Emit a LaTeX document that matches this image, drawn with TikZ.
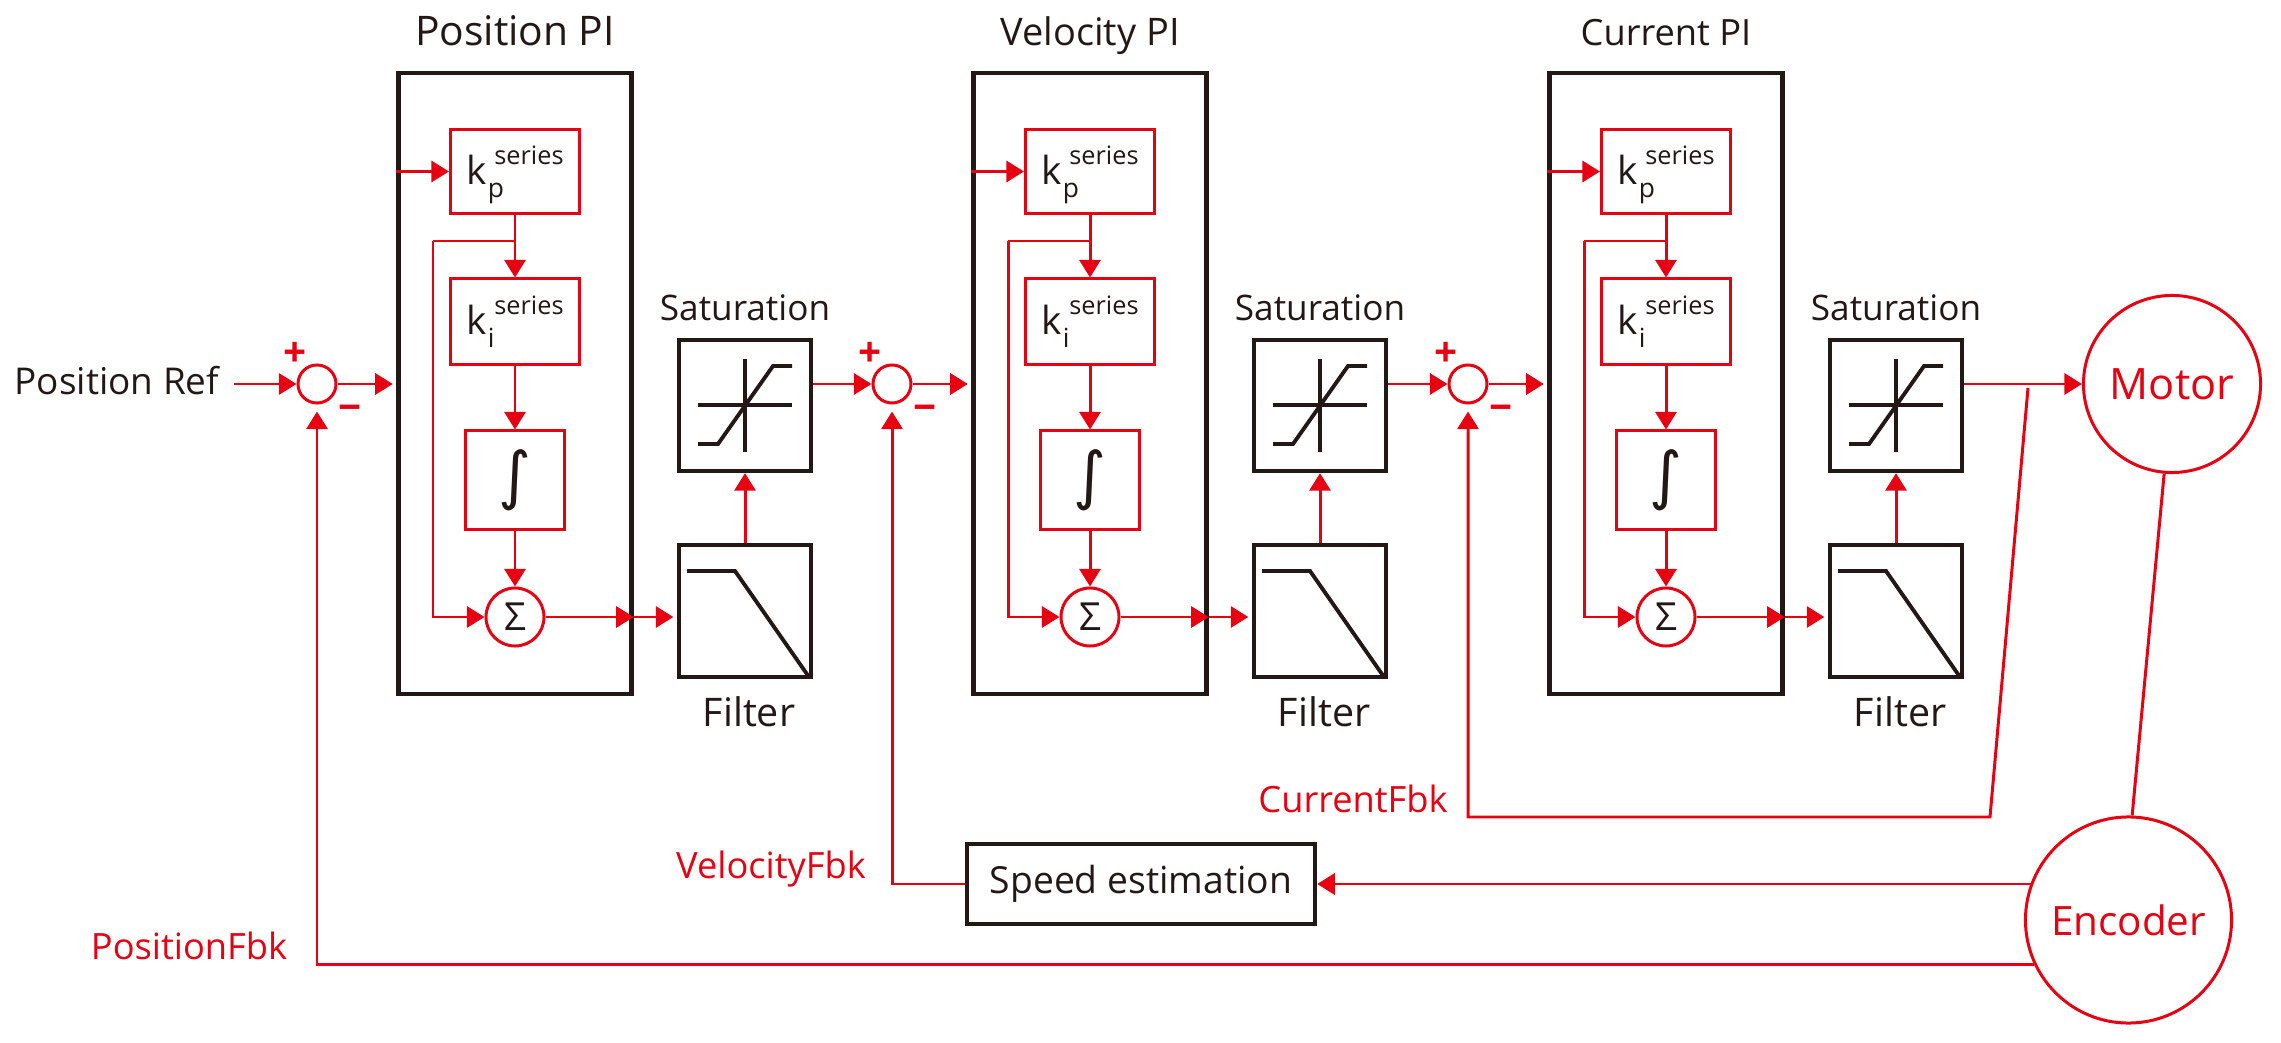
\documentclass[tikz,border=0pt]{standalone}
\usepackage{fontspec}
\setmainfont{Open Sans}
\newfontfamily\intfont{DejaVu Sans}
\usetikzlibrary{arrows.meta}
\definecolor{ctlred}{HTML}{E60012}
\definecolor{ctlblack}{HTML}{231815}
\newcommand{\gainlabel}[1]{\smash{\raisebox{-0.38em}{\fontsize{11}{12}\selectfont k\rlap{\raisebox{-0.6ex}{\fontsize{7.5}{8}\selectfont\hspace{0.05em}#1}}\hspace{0.2em}\raisebox{1.0ex}{\fontsize{7.2}{8}\selectfont series}}}}
\newcommand{\fsz}[1]{\fontsize{#1}{12}\selectfont}
\tikzset{
  blockbox/.style={draw=ctlblack, line width=1.2pt, fill=white, inner sep=0pt},
  gainbox/.style={draw=ctlred, line width=0.85pt, inner sep=0pt, text=ctlblack},
  sumdot/.style={circle, draw=ctlred, line width=0.85pt, inner sep=0pt},
  plant/.style={circle, draw=ctlred, line width=0.85pt, inner sep=0pt, text=ctlred},
  flow/.style={draw=ctlred, line width=0.85pt, -{Triangle[length=5pt,width=6pt]}},
  wire/.style={draw=ctlred, line width=0.85pt},
  glyph/.style={draw=ctlblack, line width=1.1pt},
  caption/.style={text=ctlblack, anchor=base, inner sep=0pt},
  fbklabel/.style={text=ctlred, anchor=base, inner sep=0pt, font=\fsz{10.3}},
  signmark/.style={text=ctlred, inner sep=0pt, font=\bfseries\fsz{11.5}}
}
\begin{document}
\begin{tikzpicture}[x=0.01cm, y=-0.01cm]
  \useasboundingbox (0,0) rectangle (2281,1043);
  \foreach \n/\dx/\name/\size in {1/0/Position PI/11.6, 2/575/Velocity PI/10.8, 3/1151/Current PI/10.3} {
    \begin{scope}[shift={(\dx,0)}]
      \node[blockbox, minimum width=2.33cm, minimum height=6.2cm] (pi\n) at (515,383.5) {};
      \node[caption, font=\fsz{\size}] (title\n) at (515,46) {\name};
      \node[gainbox, minimum width=1.29cm, minimum height=0.84cm] (kp\n) at (515,171.5) {\gainlabel{p}};
      \node[gainbox, minimum width=1.29cm, minimum height=0.85cm] (ki\n) at (515,321.5) {\gainlabel{i}};
      \node[gainbox, minimum width=0.98cm, minimum height=0.98cm, font=\intfont\fsz{18}] (int\n) at (515,480) {∫};
      \node[sumdot, minimum size=0.58cm, text=ctlblack, font=\fsz{11}] (sigma\n) at (515,617) {Σ};
      \node[sumdot, minimum size=0.38cm] (sum\n) at (317,384) {};
      \node[signmark] (plus\n) at (295,354) {+};
      \node[signmark] (minus\n) at (350,413) {−};
      \node[blockbox, minimum width=1.32cm, minimum height=1.31cm] (sat\n) at (745,405.5) {};
      \node[blockbox, minimum width=1.32cm, minimum height=1.32cm] (filter\n) at (745,611) {};
      \node[caption] (satname\n) at (745,321) {Saturation};
      \node[caption, font=\fsz{11.2}] (filtername\n) at (749,726) {Filter};
      % glyphs
      \draw[glyph] (698,405) -- (792,405) (745,359) -- (745,452);
      \draw[glyph] (698,444) -- (718,444) -- (773,366) -- (792,366);
      \draw[glyph] (687,571) -- (735,571) -- (809,677);
      \coordinate (fb\n) at (433,241);
    \end{scope}
    \draw[flow] (pi\n.west |- kp\n) -- (kp\n);
    \draw[flow] (kp\n) -- (ki\n);
    \draw[flow] (ki\n) -- (int\n);
    \draw[flow] (int\n) -- (sigma\n);
    \draw[wire] (kp\n.south |- fb\n) -- (fb\n);
    \draw[flow] (fb\n) |- (sigma\n);
    \draw[flow, shorten >=1pt] (sum\n) -- (pi\n.west |- sum\n);
    \draw[flow] (sigma\n) -- (pi\n.east |- sigma\n);
    \draw[flow, shorten >=1pt] (pi\n.east |- sigma\n) -- (filter\n.west |- sigma\n);
    \draw[flow] (filter\n) -- (sat\n);
  }
  \foreach \a/\b in {1/2, 2/3}
    \draw[flow] (sat\a.east |- sum\b) -- (sum\b);

  \node[caption, font=\fsz{10.5}] (ref) at (117,395) {Position Ref};
  \draw[flow, shorten <=4pt] (ref.east |- sum1) -- (sum1);

  \node[plant, minimum size=1.77cm, font=\fsz{12.3}] (motor) at (2172,384) {Motor};
  \node[plant, minimum size=2.06cm, font=\fsz{11.5}] (encoder) at (2128.5,920) {Encoder};
  \node[blockbox, text=ctlblack, minimum width=3.48cm, minimum height=0.8cm, font=\fsz{10.6}] (speed) at (1141,884) {Speed estimation};

  \node[fbklabel] (posfbk) at (189,959) {PositionFbk};
  \node[fbklabel] (velfbk) at (771,878) {VelocityFbk};
  \node[fbklabel] (curfbk) at (1353,812) {CurrentFbk};

  \coordinate (tap) at (2028,388);
  \coordinate (kink) at (1990,817);
  \draw[flow] (sat3.east |- motor) -- (motor);
  \draw[wire] (motor.265) -- (encoder.88);
  \draw[flow, shorten >=2pt] (tap) -- (kink) -| (sum3);
  \draw[flow] (speed -| encoder.159.5) -- (speed);
  \draw[flow, shorten >=2pt] (speed) -| (sum2);
  \draw[flow, shorten >=2pt] (encoder.205) -| (sum1);
\end{tikzpicture}
\end{document}
